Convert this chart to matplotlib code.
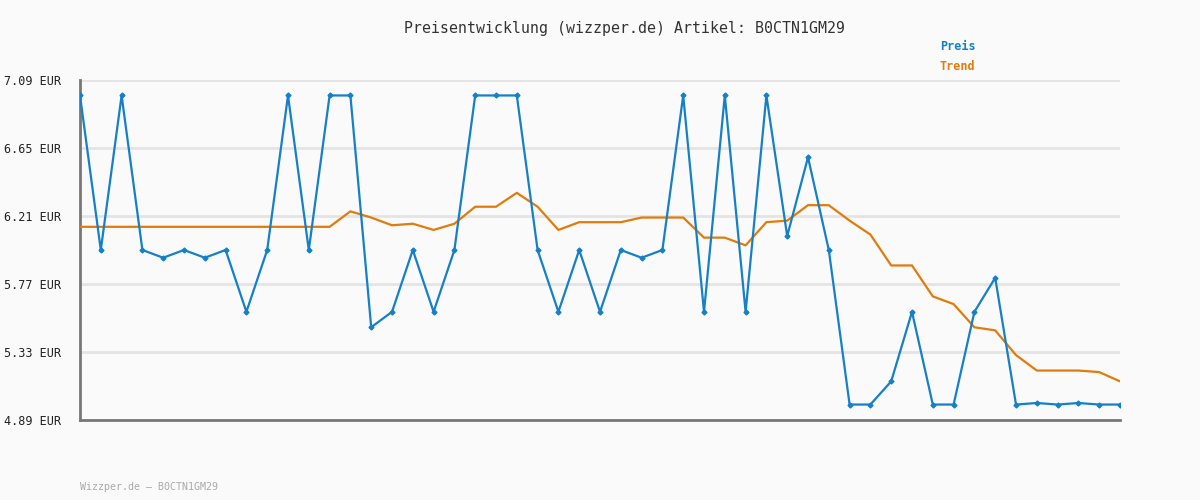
import numpy as np
import matplotlib.pyplot as plt

# Price history (EUR) and trend line
preis = [6.99, 5.99, 6.99, 5.99, 5.94, 5.99, 5.94, 5.99, 5.59, 5.99,
         6.99, 5.99, 6.99, 6.99, 5.49, 5.59, 5.99, 5.59, 5.99, 6.99,
         6.99, 6.99, 5.99, 5.59, 5.99, 5.59, 5.99, 5.94, 5.99, 6.99,
         5.59, 6.99, 5.59, 6.99, 6.08, 6.59, 5.99, 4.99, 4.99, 5.14,
         5.59, 4.99, 4.99, 5.59, 5.81, 4.99, 5.00, 4.99, 5.00, 4.99, 4.99]
trend = [6.14, 6.14, 6.14, 6.14, 6.14, 6.14, 6.14, 6.14, 6.14, 6.14,
         6.14, 6.14, 6.14, 6.24, 6.20, 6.15, 6.16, 6.12, 6.16, 6.27,
         6.27, 6.36, 6.27, 6.12, 6.17, 6.17, 6.17, 6.20, 6.20, 6.20,
         6.07, 6.07, 6.02, 6.17, 6.18, 6.28, 6.28, 6.18, 6.09, 5.89,
         5.89, 5.69, 5.64, 5.49, 5.47, 5.31, 5.21, 5.21, 5.21, 5.20, 5.14]
yticks = [4.89, 5.33, 5.77, 6.21, 6.65, 7.09]
artikel = 'B0CTN1GM29'

mono = 'DejaVu Sans Mono'
bg = '#fafafa'
blau = '#1580c8'
orange = '#e07c0c'

fig = plt.figure(figsize=(12, 5), dpi=100, facecolor=bg)
ax = fig.add_axes([80/1200, 0.16, 1040/1200, 0.68], facecolor=bg)

x = np.arange(len(preis))
ax.plot(x, trend, color=orange, lw=1.6, zorder=3)
ax.plot(x, preis, color=blau, lw=1.6, marker='D', ms=2.5, zorder=4)

ax.set_xlim(0, len(preis) - 1)
ax.set_ylim(yticks[0], yticks[-1])
ax.set_yticks(yticks)
ax.set_yticklabels(['%.2f EUR' % v for v in yticks], family=mono,
                   fontsize=8.5, color='#222222')
ax.set_xticks([])
ax.tick_params(axis='y', length=0, pad=14)
ax.grid(axis='y', color='#e4e4e4', lw=2, zorder=0)
for s in ['top', 'right']:
    ax.spines[s].set_visible(False)
for s in ['left', 'bottom']:
    ax.spines[s].set_color('#777777')
    ax.spines[s].set_linewidth(2)

fig.text(624/1200, 1 - 28/500, 'Preisentwicklung (wizzper.de) Artikel: ' + artikel,
         ha='center', va='center', family=mono, fontsize=10.7, color='#333333')
fig.text(940/1200, 1 - 47/500, 'Preis', ha='left', va='center', family=mono,
         fontsize=8.5, color=blau, fontweight='bold')
fig.text(940/1200, 1 - 67/500, 'Trend', ha='left', va='center', family=mono,
         fontsize=8.5, color=orange, fontweight='bold')
fig.text(80/1200, 1 - 487/500, 'Wizzper.de \u2013 ' + artikel, ha='left',
         va='center', family=mono, fontsize=7.2, color='#aaaaaa')

fig.savefig('out.png', facecolor=bg)
